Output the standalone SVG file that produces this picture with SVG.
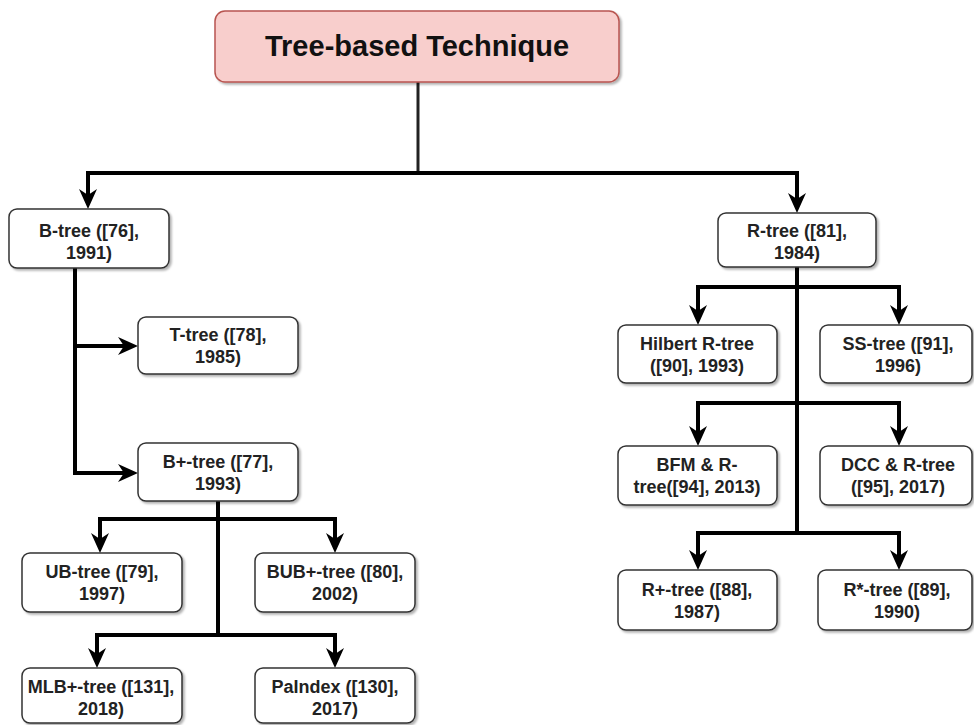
<svg xmlns="http://www.w3.org/2000/svg" width="974" height="725" viewBox="0 0 974 725">
  <defs>
    <marker id="arrow" markerUnits="userSpaceOnUse" viewBox="0 0 20 18" markerWidth="20" markerHeight="18" refX="8" refY="9" orient="auto">
      <path d="M0,0 L20,9 L0,18 L6,9 z" fill="#000"/>
    </marker>
    <filter id="shadow" x="-10%" y="-10%" width="130%" height="140%">
      <feDropShadow dx="2" dy="2" stdDeviation="1.2" flood-color="#000" flood-opacity="0.3"/>
    </filter>
  </defs>
  <style>
    .box { fill: #ffffff; stroke: #333333; stroke-width: 1.5; filter: url(#shadow); }
    .root { fill: #f8cecc; stroke: #b85450; stroke-width: 1.5; filter: url(#shadow); }
    .lbl { font-family: "Liberation Sans", Arial, sans-serif; font-weight: bold; font-size: 18px; fill: #222222; text-anchor: middle; }
    .title { font-family: "Liberation Sans", Arial, sans-serif; font-weight: bold; font-size: 29px; fill: #111111; text-anchor: middle; }
    .edge { fill: none; stroke: #000000; stroke-width: 4; stroke-linejoin: miter; }
  </style>
  <rect width="974" height="725" fill="#ffffff"/>

  <g id="connectors">
    <path class="edge" d="M418,82 V173" style="stroke:#222;stroke-width:3"/>
    <path class="edge" d="M418,173 H88 V197" marker-end="url(#arrow)"/>
    <path class="edge" d="M418,173 H797 V201" marker-end="url(#arrow)"/>
    <!-- B-tree branch -->
    <path class="edge" d="M75,268 V346 H126" marker-end="url(#arrow)"/>
    <path class="edge" d="M75,268 V473 H126" marker-end="url(#arrow)"/>
    <!-- B+-tree branch -->
    <path class="edge" d="M218,501 V519 H100 V541" marker-end="url(#arrow)"/>
    <path class="edge" d="M218,501 V519 H335 V541" marker-end="url(#arrow)"/>
    <path class="edge" d="M218,501 V635 H97 V656" marker-end="url(#arrow)"/>
    <path class="edge" d="M218,501 V635 H335 V656" marker-end="url(#arrow)"/>
    <!-- R-tree branch -->
    <path class="edge" d="M797,267 V287 H698 V313" marker-end="url(#arrow)"/>
    <path class="edge" d="M797,267 V287 H899 V313" marker-end="url(#arrow)"/>
    <path class="edge" d="M797,267 V403 H698 V434" marker-end="url(#arrow)"/>
    <path class="edge" d="M797,267 V403 H899 V434" marker-end="url(#arrow)"/>
    <path class="edge" d="M797,267 V533 H698 V558" marker-end="url(#arrow)"/>
    <path class="edge" d="M797,267 V533 H899 V558" marker-end="url(#arrow)"/>
  </g>

  <g id="root">
    <rect class="root" x="215" y="11" width="404" height="71" rx="10"/>
    <text class="title" x="417" y="56">Tree-based Technique</text>
  </g>

  <g id="btree">
    <rect class="box" x="9" y="209" width="160" height="59" rx="8"/>
    <text class="lbl" x="89" y="237">B-tree ([76],<tspan x="89" dy="22">1991)</tspan></text>
  </g>
  <g id="ttree">
    <rect class="box" x="138" y="317" width="160" height="57" rx="8"/>
    <text class="lbl" x="218" y="341">T-tree ([78],<tspan x="218" dy="22">1985)</tspan></text>
  </g>
  <g id="bplustree">
    <rect class="box" x="138" y="443" width="160" height="58" rx="8"/>
    <text class="lbl" x="218" y="468">B+-tree ([77],<tspan x="218" dy="22">1993)</tspan></text>
  </g>
  <g id="ubtree">
    <rect class="box" x="22" y="553" width="160" height="59" rx="8"/>
    <text class="lbl" x="102" y="578">UB-tree ([79],<tspan x="102" dy="22">1997)</tspan></text>
  </g>
  <g id="bubplustree">
    <rect class="box" x="255" y="553" width="160" height="59" rx="8"/>
    <text class="lbl" x="335" y="578">BUB+-tree ([80],<tspan x="335" dy="22">2002)</tspan></text>
  </g>
  <g id="mlbplustree">
    <rect class="box" x="22" y="668" width="160" height="55" rx="8"/>
    <text class="lbl" x="101" y="693">MLB+-tree ([131],<tspan x="101" dy="22">2018)</tspan></text>
  </g>
  <g id="paindex">
    <rect class="box" x="255" y="668" width="160" height="55" rx="8"/>
    <text class="lbl" x="335" y="693">PaIndex ([130],<tspan x="335" dy="22">2017)</tspan></text>
  </g>

  <g id="rtree">
    <rect class="box" x="718" y="213" width="158" height="54" rx="8"/>
    <text class="lbl" x="797" y="237">R-tree ([81],<tspan x="797" dy="22">1984)</tspan></text>
  </g>
  <g id="hilbert">
    <rect class="box" x="618" y="325" width="159" height="58" rx="8"/>
    <text class="lbl" x="697" y="350">Hilbert R-tree<tspan x="697" dy="22">([90], 1993)</tspan></text>
  </g>
  <g id="sstree">
    <rect class="box" x="820" y="325" width="152" height="58" rx="8"/>
    <text class="lbl" x="898" y="350">SS-tree ([91],<tspan x="898" dy="22">1996)</tspan></text>
  </g>
  <g id="bfm">
    <rect class="box" x="618" y="446" width="159" height="59" rx="8"/>
    <text class="lbl" x="697" y="471">BFM &amp; R-<tspan x="697" dy="22">tree([94], 2013)</tspan></text>
  </g>
  <g id="dcc">
    <rect class="box" x="820" y="446" width="152" height="59" rx="8"/>
    <text class="lbl" x="898" y="471">DCC &amp; R-tree<tspan x="898" dy="22">([95], 2017)</tspan></text>
  </g>
  <g id="rplustree">
    <rect class="box" x="618" y="570" width="159" height="60" rx="8"/>
    <text class="lbl" x="697" y="596">R+-tree ([88],<tspan x="697" dy="22">1987)</tspan></text>
  </g>
  <g id="rstartree">
    <rect class="box" x="818" y="570" width="154" height="60" rx="8"/>
    <text class="lbl" x="897" y="596">R*-tree ([89],<tspan x="897" dy="22">1990)</tspan></text>
  </g>
</svg>
